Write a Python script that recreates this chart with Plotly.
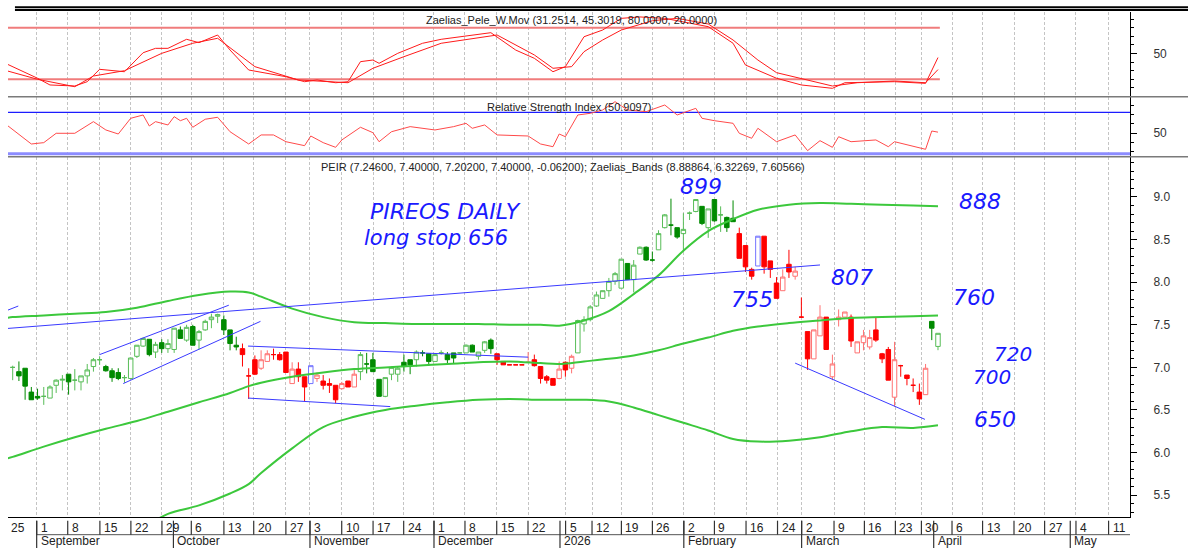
import plotly.graph_objects as go

# ---------------------------------------------------------------------------
# data; x = trading-day number (0 = 26 Aug 2025)
# ---------------------------------------------------------------------------
opens = [
    7.00, 6.95, 6.99, 6.71, 6.66, 6.66, 6.64, 6.79, 6.85, 6.92,
    6.85, 6.83, 6.90, 7.01, 7.09, 7.01, 6.96, 6.94, 6.88, 6.87,
    7.13, 7.25, 7.33, 7.18, 7.29, 7.22, 7.21, 7.44, 7.32, 7.48,
    7.32, 7.44, 7.56, 7.60, 7.56, 7.44, 7.26, 7.22, 6.90, 7.09,
    6.99, 7.07, 7.15, 7.15, 7.18, 6.81, 6.98, 6.89, 6.81, 6.87,
    6.84, 6.81, 6.79, 6.75, 6.84, 6.77, 6.95, 7.04, 7.09, 6.86,
    6.66, 6.92, 6.92, 7.06, 7.09, 7.09, 7.17, 7.16, 7.07, 7.17,
    7.15, 7.17, 7.17, 7.17, 7.26, 7.13, 7.20, 7.32, 7.16, 7.07,
    7.03, 7.03, 7.03, 7.06, 7.09, 7.01, 6.89, 6.87, 6.87, 7.06,
    6.99, 7.17, 7.51, 7.56, 7.72, 7.81, 7.90, 8.01, 7.93, 8.22,
    8.03, 8.33, 8.41, 8.26, 8.38, 8.64, 8.67, 8.64, 8.57, 8.81,
    8.83, 8.89, 8.64, 8.97, 8.79, 8.76, 8.75, 8.57, 8.43, 8.15,
    8.19, 8.54, 8.25, 7.99, 7.90, 8.21, 8.07, 7.59, 7.42, 7.10,
    7.37, 7.59, 6.89, 7.56, 7.59, 7.59, 7.17, 7.29, 7.24, 7.44,
    7.16, 7.21, 6.65, 7.02, 6.91, 6.79, 6.71, 6.68, 7.54, 7.246,
]
highs = [
    7.02, 7.07, 6.99, 6.77, 6.75, 6.77, 6.79, 6.86, 6.91, 6.92,
    6.98, 6.90, 7.04, 7.11, 7.13, 7.03, 6.99, 6.99, 6.91, 7.11,
    7.26, 7.35, 7.33, 7.30, 7.33, 7.33, 7.46, 7.48, 7.50, 7.50,
    7.44, 7.56, 7.63, 7.63, 7.61, 7.44, 7.36, 7.28, 6.99, 7.14,
    7.20, 7.20, 7.22, 7.18, 7.18, 7.06, 7.06, 6.89, 7.02, 6.94,
    6.91, 6.87, 6.79, 6.83, 6.84, 6.99, 7.18, 7.17, 7.17, 6.86,
    6.88, 7.01, 7.01, 7.15, 7.09, 7.20, 7.20, 7.16, 7.15, 7.20,
    7.18, 7.17, 7.18, 7.27, 7.27, 7.18, 7.31, 7.34, 7.16, 7.07,
    7.03, 7.03, 7.03, 7.18, 7.15, 7.01, 6.91, 6.87, 7.07, 7.07,
    7.15, 7.56, 7.60, 7.73, 7.89, 7.90, 8.05, 8.12, 8.27, 8.22,
    8.26, 8.42, 8.42, 8.36, 8.61, 8.80, 8.98, 8.64, 8.81, 8.83,
    8.97, 8.89, 8.86, 8.97, 8.89, 8.77, 8.96, 8.64, 8.43, 8.17,
    8.54, 8.54, 8.25, 8.06, 8.15, 8.38, 8.18, 7.82, 7.42, 7.44,
    7.73, 7.59, 7.15, 7.68, 7.65, 7.62, 7.30, 7.44, 7.44, 7.58,
    7.17, 7.24, 7.30, 7.03, 6.91, 6.87, 6.81, 7.04, 7.54, 7.40,
]
lows = [
    6.85, 6.84, 6.62, 6.62, 6.62, 6.56, 6.64, 6.70, 6.73, 6.68,
    6.73, 6.73, 6.81, 6.95, 7.03, 6.95, 6.83, 6.85, 6.82, 6.86,
    7.11, 7.24, 7.13, 7.11, 7.17, 7.17, 7.17, 7.34, 7.30, 7.26,
    7.21, 7.43, 7.46, 7.52, 7.38, 7.20, 7.20, 7.01, 6.63, 6.91,
    6.97, 7.07, 7.09, 7.08, 6.94, 6.81, 6.83, 6.60, 6.81, 6.83,
    6.74, 6.70, 6.58, 6.74, 6.77, 6.77, 6.85, 6.93, 6.95, 6.66,
    6.65, 6.85, 6.83, 6.95, 6.92, 7.01, 7.13, 7.02, 7.07, 7.15,
    7.05, 7.05, 7.16, 7.17, 7.18, 7.09, 7.17, 7.16, 7.03, 7.03,
    7.03, 7.03, 7.03, 7.05, 7.01, 6.81, 6.81, 6.79, 6.86, 6.89,
    6.93, 7.17, 7.42, 7.54, 7.71, 7.81, 7.83, 7.97, 7.93, 8.03,
    7.88, 8.33, 8.25, 8.24, 8.38, 8.63, 8.55, 8.51, 8.36, 8.73,
    8.82, 8.67, 8.52, 8.71, 8.59, 8.59, 8.71, 8.28, 8.12, 8.03,
    8.19, 8.10, 8.05, 7.81, 7.90, 8.05, 8.03, 7.58, 6.97, 7.10,
    7.37, 7.21, 6.85, 7.48, 7.59, 7.24, 7.17, 7.20, 7.21, 7.30,
    7.05, 6.85, 6.54, 6.89, 6.79, 6.71, 6.56, 6.68, 7.32, 7.202,
]
closes = [
    7.00, 6.90, 6.78, 6.62, 6.64, 6.66, 6.77, 6.85, 6.86, 6.83,
    6.85, 6.90, 6.97, 7.09, 7.09, 6.96, 6.88, 6.87, 6.88, 7.11,
    7.26, 7.34, 7.15, 7.27, 7.22, 7.28, 7.46, 7.34, 7.47, 7.26,
    7.42, 7.54, 7.59, 7.62, 7.44, 7.28, 7.24, 7.15, 6.90, 6.92,
    7.09, 7.16, 7.15, 7.09, 6.94, 6.98, 6.89, 6.77, 7.02, 6.91,
    6.79, 6.79, 6.62, 6.81, 6.77, 6.92, 7.15, 7.04, 6.95, 6.66,
    6.88, 7.00, 6.99, 7.01, 7.03, 7.18, 7.17, 7.07, 7.15, 7.17,
    7.09, 7.11, 7.17, 7.26, 7.18, 7.18, 7.30, 7.22, 7.09, 7.03,
    7.03, 7.03, 7.03, 7.06, 7.02, 6.87, 6.85, 6.79, 6.98, 6.97,
    7.13, 7.55, 7.56, 7.71, 7.85, 7.90, 8.01, 8.10, 8.27, 8.03,
    8.20, 8.41, 8.26, 8.26, 8.57, 8.79, 8.67, 8.53, 8.62, 8.81,
    8.97, 8.69, 8.86, 8.72, 8.79, 8.64, 8.71, 8.28, 8.18, 8.07,
    8.54, 8.18, 8.15, 7.81, 8.06, 8.12, 8.13, 7.59, 7.10, 7.44,
    7.59, 7.21, 7.04, 7.59, 7.65, 7.31, 7.30, 7.37, 7.35, 7.32,
    7.10, 6.85, 7.09, 7.02, 6.87, 6.79, 6.63, 6.99, 7.46, 7.40,
]
# trend colouring of the candles (runs of consecutive bars)
color_runs = [("g", 37), ("r", 11), ("b", 1), ("r", 7), ("g", 22), ("r", 13),
              ("g", 26), ("r", 3), ("b", 1), ("r", 27), ("g", 2)]

# Zaelias_Bands (upper / lower / middle)
band_idx = [-1, 0, 5, 10, 15, 20, 25, 30, 35, 38, 40, 45, 50, 55, 60, 65, 70, 75,
            80, 85, 88, 92, 96, 100, 104, 108, 112, 116, 120, 125, 130, 135, 140, 145, 149]
band_upper = [7.58, 7.59, 7.61, 7.63, 7.65, 7.70, 7.78, 7.85, 7.89, 7.88, 7.83, 7.69,
              7.59, 7.53, 7.52, 7.51, 7.51, 7.51, 7.50, 7.50, 7.49, 7.55, 7.66, 7.86,
              8.08, 8.37, 8.60, 8.74, 8.85, 8.91, 8.93, 8.92, 8.91, 8.90, 8.89]
band_middle = [5.93, 5.95, 6.07, 6.18, 6.28, 6.37, 6.48, 6.59, 6.70, 6.78, 6.82, 6.89,
               6.94, 6.98, 7.00, 7.02, 7.04, 7.06, 7.07, 7.05, 7.04, 7.07, 7.10, 7.14,
               7.20, 7.28, 7.35, 7.43, 7.48, 7.52, 7.55, 7.58, 7.59, 7.60, 7.61]
band_lower = [4.42, 4.45, 4.60, 4.75, 4.90, 5.08, 5.28, 5.38, 5.52, 5.63, 5.76, 6.05,
              6.30, 6.42, 6.50, 6.55, 6.59, 6.62, 6.63, 6.62, 6.62, 6.62, 6.60, 6.53,
              6.44, 6.35, 6.26, 6.16, 6.13, 6.14, 6.18, 6.25, 6.30, 6.29, 6.32]

# hand-drawn trend lines: (x0, y0, x1, y1)
trend_lines = [
    (-1.0, 7.456, 130.0, 8.202),
    (-1.2, 7.66, 0.9, 7.72),
    (14.0, 7.15, 34.8, 7.73),
    (17.8, 6.81, 39.9, 7.54),
    (37.9, 7.25, 83.0, 7.12),
    (37.9, 6.64, 60.8, 6.54),
    (126.0, 7.05, 146.9, 6.39),
]

# Zaelias_Pele_W.Mov
pele_fast_idx = [-1, 4, 6, 10, 12, 14, 18, 21, 23, 25, 28, 30, 33, 35, 38, 41, 44, 47,
                 49, 52, 54, 56, 58, 59, 62, 66, 69, 77, 81, 84, 87, 89, 92, 95, 98,
                 101, 105, 112, 116, 118, 120, 123, 127, 132, 134, 139, 142, 147, 149]
pele_fast = [38, 21.2, 13.4, 12.2, 17.2, 31.6, 28.8, 50.9, 56, 56, 66.5, 62.6, 71.5,
             54, 30.8, 27, 23, 17.2, 19.2, 16, 17.2, 40.5, 42.4, 38.6, 50.2, 61.9,
             66.5, 74.2, 54, 44.4, 28.8, 34.7, 69.5, 77.3, 90.9, 92.5, 90.9, 81.2,
             61.9, 36.6, 30.8, 21.2, 13.4, 9.5, 16, 17.2, 17.2, 15.3, 45.3]
pele_slow_idx = [-1, 4, 10, 13, 18, 24, 29, 33, 39, 46, 54, 58, 63, 69, 78, 81, 84, 87,
                 90, 92, 95, 98, 103, 107, 112, 116, 120, 123, 128, 132, 136, 142, 147, 149]
pele_slow = [30, 20, 11.4, 23.8, 30, 50.2, 61.9, 67.7, 34.7, 19.2, 16, 32.8, 46.3,
             61.9, 71.5, 59.9, 48.3, 32.8, 34.7, 52.1, 65.7, 77.3, 88.1, 90.9, 84.3,
             65.7, 42.4, 27.7, 19.2, 12.2, 16, 18, 16, 31.3]

# Relative Strength Index
rsi_idx = [-1, 3, 5, 7, 10, 13, 15, 17, 19, 21, 22, 23, 25, 26, 27, 28, 29, 31, 33,
           35, 38, 40, 42, 44, 47, 48, 50, 52, 53, 56, 58, 59, 61, 64, 68, 71, 73,
           74, 76, 78, 83, 85, 87, 88, 89, 91, 93, 95, 97, 99, 102, 105, 107, 110,
           111, 113, 116, 117, 119, 120, 123, 126, 128, 130, 132, 133, 135, 139,
           141, 142, 147, 148, 149]
rsi_vals = [58, 39.5, 40.8, 49.8, 49.8, 61, 53, 49.1, 64.2, 67.4, 56.8, 61, 57.8,
            65.8, 61.9, 64.2, 55.6, 63.3, 65.2, 51.3, 39.5, 48.2, 48.2, 41.7, 37.9,
            47.2, 40.8, 36.3, 43.4, 55.6, 50.4, 41.7, 51.3, 56.2, 53, 56.2, 59.4,
            54.6, 57.8, 48.2, 47.2, 39.5, 36.9, 49.1, 46.5, 67.4, 69, 72.2, 80.2,
            72.2, 70.6, 77, 67.4, 73.8, 64.2, 61.9, 59.4, 49.8, 45, 54.6, 41.7, 48.2,
            33.1, 42.7, 36.3, 46.5, 41.7, 43.4, 36.9, 41.7, 34.4, 52, 50.9]

# date axis
week_pos = [-1.13, 3.86, 8.86, 14.04, 19.03, 24.03, 28.76, 34.01, 38.81, 43.99,
            47.87, 52.98, 58.03, 62.96, 67.84, 72.83, 77.94, 82.98, 89.03, 93.29,
            98.02, 103.01, 108.07, 113.0, 118.09, 123.16, 127.04, 132.26, 137.15,
            142.14, 146.33, 151.26, 156.18, 161.24, 166.17, 171.22, 176.47]
week_text = ["25", "1", "8", "15", "22", "29", "6", "13", "20", "27", "3", "10", "17",
             "24", "1", "8", "15", "22", "5", "12", "19", "26", "2", "9", "16", "24",
             "2", "9", "16", "23", "30", "6", "13", "20", "27", "4", "11"]
month_pos = [3.86, 25.88, 47.87, 67.84, 88.13, 108.07, 127.04, 148.31, 170.3]
month_text = ["September", "October", "November", "December", "2026", "February",
              "March", "April", "May"]

# hand-written notes: (text, x, y, size, anchor)
notes = [
    ("PIREOS DAILY", 57.2, 8.83, 22, "left"),
    ("long stop 656", 56.3, 8.52, 21, "left"),
    ("899", 110.9, 9.12, 22, "center"),
    ("888", 155.8, 8.95, 22, "center"),
    ("755", 119.1, 7.80, 22, "center"),
    ("807", 135.1, 8.05, 22, "center"),
    ("760", 154.8, 7.815, 22, "center"),
    ("720", 161.0, 7.16, 20, "center"),
    ("700", 157.7, 6.885, 20, "center"),
    ("650", 158.2, 6.39, 22, "center"),
]

X_RANGE = [-0.757, 179.92]
FONT = "Liberation Sans, Arial, sans-serif"
HAND = "#1a1aff"

days = list(range(len(opens)))
candle_colors = [c for c, n in color_runs for _ in range(n)]

fig = go.Figure()

# ---- top panel -------------------------------------------------------------
for level in (80, 20):
    fig.add_trace(go.Scatter(x=[-1, 149.3], y=[level, level], mode="lines",
                             line=dict(color="#f07c7c", width=2), yaxis="y", hoverinfo="skip"))
fig.add_trace(go.Scatter(x=pele_slow_idx, y=pele_slow, mode="lines",
                         line=dict(color="#ff1a1a", width=1), yaxis="y"))
fig.add_trace(go.Scatter(x=pele_fast_idx, y=pele_fast, mode="lines",
                         line=dict(color="#ff1a1a", width=1), yaxis="y"))

# ---- RSI panel -------------------------------------------------------------
fig.add_trace(go.Scatter(x=[-2, 182], y=[70, 70], mode="lines",
                         line=dict(color="#1c1cff", width=1.2), yaxis="y2", hoverinfo="skip"))
fig.add_trace(go.Scatter(x=[-2, 182], y=[30, 30], mode="lines",
                         line=dict(color="#8c8cff", width=3), yaxis="y2", hoverinfo="skip"))
fig.add_trace(go.Scatter(x=rsi_idx, y=rsi_vals, mode="lines",
                         line=dict(color="#ff4a4a", width=1), yaxis="y2"))

# ---- price panel -----------------------------------------------------------
for vals in (band_upper, band_middle, band_lower):
    fig.add_trace(go.Scatter(x=band_idx, y=vals, mode="lines", line_shape="spline",
                             line=dict(color="#3cc83c", width=2), yaxis="y3"))

for x0, y0, x1, y1 in trend_lines:
    fig.add_trace(go.Scatter(x=[x0, x1], y=[y0, y1], mode="lines",
                             line=dict(color="#3a3aff", width=1), yaxis="y3"))

candle_styles = {
    "g": ("#58bd58", "#008a00"),
    "r": ("#ff7272", "#ff0000"),
    "b": ("#7474ff", "#0000ff"),
}
for key, (light, dark) in candle_styles.items():
    keep = [c == key for c in candle_colors]
    fig.add_trace(go.Candlestick(
        x=days,
        open=[v if k else None for v, k in zip(opens, keep)],
        high=[v if k else None for v, k in zip(highs, keep)],
        low=[v if k else None for v, k in zip(lows, keep)],
        close=[v if k else None for v, k in zip(closes, keep)],
        increasing=dict(line=dict(color=light, width=1), fillcolor="white"),
        decreasing=dict(line=dict(color=dark, width=1), fillcolor=dark),
        whiskerwidth=0,
        yaxis="y3",
        hoverinfo="x+y",
    ))

# ---- layout ----------------------------------------------------------------
axis_common = dict(
    side="right", anchor="x", showline=True, linecolor="black", linewidth=1,
    showgrid=False, zeroline=False, ticks="outside", ticklen=6, tickcolor="black",
    tickfont=dict(family=FONT, size=12, color="#333333"), ticklabelstandoff=14,
)
fig.update_layout(
    width=1188, height=552,
    margin=dict(l=8, r=58, t=12, b=35),
    paper_bgcolor="white", plot_bgcolor="white",
    showlegend=False,
    font=dict(family=FONT, size=11, color="#222222"),
    boxgap=0.15, boxgroupgap=0.15,
    xaxis=dict(
        range=X_RANGE, anchor="y3", showticklabels=False, ticks="",
        tickmode="array", tickvals=week_pos,
        showgrid=True, gridcolor="#c4c4c4", griddash="3px,2px", gridwidth=1,
        showline=True, linecolor="black", linewidth=1, zeroline=False,
        rangeslider=dict(visible=False),
    ),
    yaxis=dict(domain=[0.8317, 1.0], range=[-0.58, 98.26], tickvals=[50],
               minor=dict(tickmode="linear", tick0=0, dtick=10, ticks="outside",
                          ticklen=3, tickcolor="black"), **axis_common),
    yaxis2=dict(domain=[0.7135, 0.8317], range=[27.3, 84.7], tickvals=[50],
                minor=dict(tickmode="linear", tick0=50, dtick=9, ticks="outside",
                           ticklen=3, tickcolor="black"), **axis_common),
    yaxis3=dict(domain=[0.0, 0.7135], range=[5.244, 9.473], tickmode="linear",
                tick0=5.5, dtick=0.5, tickformat=".1f",
                minor=dict(tickmode="linear", tick0=5.5, dtick=0.1, ticks="outside",
                           ticklen=3, tickcolor="black"), **axis_common),
)

shapes = []
# frame lines
for yy in (1.0093, 1.0040):
    shapes.append(dict(type="line", xref="paper", yref="paper", x0=0.0062, x1=1.0517,
                       y0=yy, y1=yy, line=dict(color="black", width=2)))
for yy in (0.8323, 0.7135):
    shapes.append(dict(type="line", xref="paper", yref="paper", x0=0, x1=1.0517,
                       y0=yy, y1=yy, line=dict(color="#7a7a7a", width=1.5)))
# date scale boxes
shapes.append(dict(type="line", xref="x", yref="paper", x0=month_pos[0], x1=X_RANGE[1],
                   y0=-0.035, y1=-0.035, line=dict(color="#555555", width=1)))
for p in week_pos:
    shapes.append(dict(type="line", xref="x", yref="paper", x0=p, x1=p,
                       y0=-0.0073, y1=-0.035, line=dict(color="#333333", width=1.2)))
for p in month_pos:
    shapes.append(dict(type="line", xref="x", yref="paper", x0=p, x1=p,
                       y0=-0.0073, y1=-0.0614, line=dict(color="#333333", width=1.2)))

annotations = []
for p, t in zip(week_pos, week_text):
    if p < X_RANGE[0]:
        pos = dict(xref="paper", x=0, xshift=1)
    else:
        pos = dict(xref="x", x=p, xshift=2)
    annotations.append(dict(text=t, yref="paper", y=-0.0208, xanchor="left",
                            yanchor="middle", showarrow=False,
                            font=dict(family=FONT, size=12, color="#222222"), **pos))
for p, t in zip(month_pos, month_text):
    annotations.append(dict(text=t, xref="x", x=p, xshift=2, yref="paper", y=-0.0475,
                            xanchor="left", yanchor="middle", showarrow=False,
                            font=dict(family=FONT, size=12, color="#222222")))

# panel captions
captions = [
    ("Zaelias_Pele_W.Mov (31.2514, 45.3019, 80.0000, 20.0000)", 0.5018, 0.985),
    ("Relative Strength Index (50.9097)", 0.5005, 0.8125),
    ("PEIR (7.24600, 7.40000, 7.20200, 7.40000, -0.06200); "
     "Zaelias_Bands (8.88864, 6.32269, 7.60566)", 0.4947, 0.693),
]
for t, xx, yy in captions:
    annotations.append(dict(text=t, xref="paper", yref="paper", x=xx, y=yy,
                            xanchor="center", yanchor="middle", showarrow=False,
                            font=dict(family=FONT, size=11, color="#222222")))

for t, xx, yy, size, anchor in notes:
    annotations.append(dict(text="<i>" + t + "</i>", xref="x", yref="y3", x=xx, y=yy,
                            xanchor=anchor, yanchor="middle", showarrow=False,
                            font=dict(family="DejaVu Sans", size=size, color=HAND)))

fig.update_layout(shapes=shapes, annotations=annotations)

fig.write_html("out.html",
               config={"displayModeBar": False},
               post_script="document.body.style.margin='0';"
                           "document.body.style.overflow='hidden';")
